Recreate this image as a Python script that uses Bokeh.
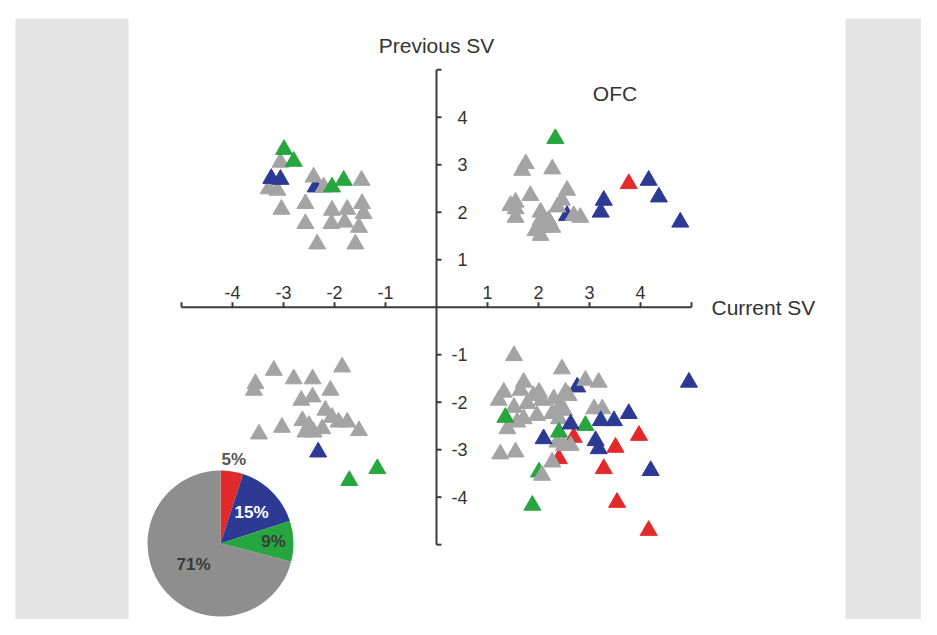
import math
from bokeh.plotting import figure
from bokeh.models import Range1d, ColumnDataSource
from bokeh.core.properties import value
from bokeh.embed import file_html
from bokeh.resources import INLINE

# ---------------- data ----------------
gray_x = [-3.06, -3.29, -3.12, -2.41, -2.21, -1.47, -2.57, -3.04, -2.05, -1.75, -1.46, -1.43,
          -2.57, -2.06, -1.80, -1.52, -2.34, -1.59,
          1.75, 1.68, 2.27, 1.84, 1.55, 1.45, 1.55, 1.55, 2.56, 2.46, 2.37, 2.04, 2.04, 2.10,
          2.04, 2.20, 2.27, 1.94, 2.69, 2.82,
          -3.19, -3.55, -3.58, -2.80, -2.43, -1.85, -2.08, -2.65, -2.43, -2.18, -2.05, -2.63,
          -2.50, -3.03, -3.48, -1.92, -1.75, -1.52, -2.41, -2.24, -2.57,
          1.52, 2.46, 2.92, 3.18, 1.71, 1.32, 1.22, 1.65, 2.01, 2.07, 1.78, 1.52, 2.30, 2.43,
          2.59, 2.50, 2.27, 2.40, 1.97, 1.71, 1.39, 3.09, 3.25, 1.58, 1.25, 1.55, 2.50, 2.37,
          2.63, 2.27, 2.07, 2.53, 1.90]
gray_y = [3.05, 2.49, 2.46, 2.74, 2.53, 2.67, 2.18, 2.06, 2.04, 2.06, 2.18, 1.97,
          1.76, 1.76, 1.79, 1.68, 1.33, 1.33,
          3.02, 2.88, 2.91, 2.35, 2.21, 2.14, 2.07, 1.89, 2.46, 2.25, 2.11, 2.00, 1.83, 1.68,
          1.51, 1.83, 1.68, 1.61, 1.93, 1.89,
          -1.33, -1.61, -1.75, -1.51, -1.51, -1.26, -1.75, -1.96, -1.89, -2.17, -2.32, -2.39,
          -2.49, -2.53, -2.67, -2.42, -2.42, -2.60, -2.63, -2.56, -2.63,
          -1.02, -1.30, -1.54, -1.58, -1.58, -1.79, -1.96, -1.75, -1.79, -1.96, -2.03, -2.11, -1.93, -2.07,
          -1.86, -2.17, -2.24, -2.35, -2.28, -2.35, -2.56, -2.14, -2.14, -2.42, -3.09, -3.05, -2.91, -2.84,
          -2.91, -3.26, -3.54, -1.79, -1.86]

blue_x = [-3.24, -3.06, -2.37, 2.56, 3.28, 3.22, 4.16, 4.36, 4.78, -2.32,
          2.76, 4.95, 2.63, 3.22, 3.48, 3.77, 2.10, 3.12, 3.18, 4.20]
blue_y = [2.71, 2.69, 2.53, 1.93, 2.25, 2.00, 2.67, 2.32, 1.79, -3.05,
          -1.68, -1.58, -2.46, -2.39, -2.39, -2.24, -2.77, -2.81, -2.98, -3.44]
blue_under = [2, 3, 10]

green_x = [-2.99, -2.80, -2.05, -1.82, 2.33, -1.16, -1.71, 1.35, 2.92, 2.40, 2.01, 1.88]
green_y = [3.32, 3.07, 2.53, 2.67, 3.55, -3.40, -3.65, -2.32, -2.49, -2.63, -3.47, -4.17]
green_under = [10]

red_x = [3.77, 2.69, 3.51, 3.97, 2.40, 3.28, 3.54, 4.16]
red_y = [2.60, -2.74, -2.95, -2.70, -3.19, -3.40, -4.11, -4.70]
red_under = [1, 4]

tick_values = [-5, -4, -3, -2, -1, 1, 2, 3, 4, 5]
tick_labels = ["", "-4", "-3", "-2", "-1", "1", "2", "3", "4", ""]

pie_labels = ["5%", "15%", "9%", "71%"]
pie_values = [5, 15, 9, 71]

# ---------------- styles ----------------
C_GRAY = "#a4a4a4"
C_BLUE = "#2d3a94"
C_GREEN = "#27a640"
C_RED = "#e32a2b"
PIE_COLORS = ["#e32a2b", "#2d3a94", "#27a640", "#8e8e8e"]
PIE_TEXT = ["#555555", "#ffffff", "#3a3a3a", "#3a3a3a"]
PIE_LABEL_R = [85, 44, 53, 34]
AX = "#3c3c3c"
TXT = "#333333"
FONT = value("Liberation Sans")

W, H = 921, 619
# pixel geometry of the image (screenshot coords)
X0, SX, Y0, SY = 436.0, 51.0, 306.7, 47.5


def dx(px):
    return (px - X0) / SX


def dy(py):
    return (Y0 - py) / SY


p = figure(width=W, height=H, output_backend="svg", toolbar_location=None,
           x_range=Range1d(dx(0), dx(W)), y_range=Range1d(dy(H), dy(0)),
           min_border=0, x_axis_location=None, y_axis_location=None)
p.grid.visible = False
p.outline_line_color = None
p.background_fill_color = "white"
p.border_fill_color = "white"

# side bands
p.quad(left=[dx(15), dx(845)], right=[dx(128), dx(960)], top=[dy(18), dy(18)],
       bottom=[dy(700), dy(700)], fill_color="#e4e4e4", line_color=None)

# axes
p.segment(x0=[-5, 0], y0=[0, -5], x1=[5, 0], y1=[0, 5], line_color=AX, line_width=2)
tx = 5.0 / SY
ty = 5.0 / SX
p.segment(x0=tick_values, y0=[0] * len(tick_values), x1=tick_values, y1=[tx] * len(tick_values),
          line_color=AX, line_width=2)
p.segment(x0=[0] * len(tick_values), y0=tick_values, x1=[ty] * len(tick_values), y1=tick_values,
          line_color=AX, line_width=2)
p.text(x=tick_values, y=[0] * len(tick_values), text=tick_labels, text_font=FONT,
       text_font_size="18px", text_color=TXT, text_align="center", text_baseline="bottom",
       y_offset=-8)
p.text(x=[0] * len(tick_values), y=tick_values, text=tick_labels, text_font=FONT,
       text_font_size="18px", text_color=TXT, text_align="right", text_baseline="middle",
       x_offset=31)

p.text(x=[0], y=[5], text=["Previous SV"], text_font=FONT, text_font_size="21px",
       text_color=TXT, text_align="center", text_baseline="middle", y_offset=-24)
p.text(x=[5], y=[0], text=["Current SV"], text_font=FONT, text_font_size="21px",
       text_color=TXT, text_align="left", text_baseline="middle", x_offset=20)
p.text(x=[3.5], y=[4.5], text=["OFC"], text_font=FONT, text_font_size="21px",
       text_color=TXT, text_align="center", text_baseline="middle")

# triangles
TRI = 17


def pick(xs, ys, idx, keep):
    sel = [i for i in range(len(xs)) if (i in idx) == keep]
    return [xs[i] for i in sel], [ys[i] for i in sel]


for xs, ys, under, col in [(blue_x, blue_y, blue_under, C_BLUE),
                           (green_x, green_y, green_under, C_GREEN),
                           (red_x, red_y, red_under, C_RED)]:
    ux, uy = pick(xs, ys, under, True)
    p.scatter(ux, uy, marker="triangle", size=TRI, fill_color=col, line_color=col)

p.scatter(gray_x, gray_y, marker="triangle", size=TRI, fill_color=C_GRAY, line_color=C_GRAY)

for xs, ys, under, col in [(green_x, green_y, green_under, C_GREEN),
                           (blue_x, blue_y, blue_under, C_BLUE),
                           (red_x, red_y, red_under, C_RED)]:
    ox, oy = pick(xs, ys, under, False)
    p.scatter(ox, oy, marker="triangle", size=TRI, fill_color=col, line_color=col)

# pie
pcx, pcy = dx(220), dy(543)
tot = float(sum(pie_values))
starts, ends, lx, ly = [], [], [], []
cum = 0.0
for v, r in zip(pie_values, PIE_LABEL_R):
    a0 = math.pi / 2 - 2 * math.pi * cum / tot
    cum += v
    a1 = math.pi / 2 - 2 * math.pi * cum / tot
    starts.append(a0)
    ends.append(a1)
    mid = (a0 + a1) / 2
    lx.append(r * math.cos(mid))
    ly.append(-r * math.sin(mid))

psrc = ColumnDataSource(dict(x=[pcx] * 4, y=[pcy] * 4, s=starts, e=ends, c=PIE_COLORS))
p.wedge(x="x", y="y", radius=73, radius_units="screen", start_angle="s", end_angle="e",
        direction="clock", fill_color="c", line_color=None, source=psrc)
for t, ox, oy, c in zip(pie_labels, lx, ly, PIE_TEXT):
    p.text(x=[pcx], y=[pcy], text=[t], text_font=FONT, text_font_size="17px",
           text_font_style="bold", text_color=c, text_align="center", text_baseline="middle",
           x_offset=ox, y_offset=oy)

open("out.html", "w").write(file_html(p, INLINE))
